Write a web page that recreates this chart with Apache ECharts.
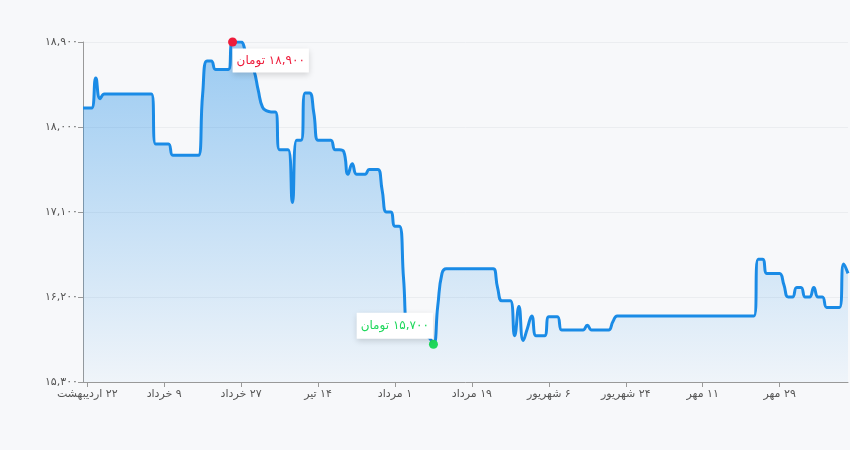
<!DOCTYPE html>
<html>
<head>
<meta charset="utf-8">
<script src="https://cdn.jsdelivr.net/npm/echarts@6/dist/echarts.min.js"></script>
<style>
html,body{margin:0;padding:0;background:#f7f8fa;}
#chart{width:850px;height:450px;}
</style>
</head>
<body>
<div id="chart"></div>
<script>
// Persian calendar: month names and lengths used to build the daily categories
const monthNames = ['اردیبهشت', 'خرداد', 'تیر', 'مرداد', 'شهریور', 'مهر', 'آبان'];
const monthDays = [31, 31, 31, 31, 31, 30, 30];
const startDay = 21;          // first day shown (in اردیبهشت)
const dayCount = 180;

// Daily price (toman)
const prices = [
  18200, 18200, 18200, 18520, 18300,
  18350, 18350, 18350, 18350, 18350, 18350, 18350, 18350, 18350, 18350, 18350, 18350,
  17820, 17820, 17820, 17820,
  17700, 17700, 17700, 17700, 17700, 17700, 17700,
  18350, 18700, 18700,
  18610, 18610, 18610, 18610,
  18900, 18900, 18900, 18800, 18690, 18600, 18390, 18210, 18170, 18160, 18160,
  17760, 17760, 17760, 17200, 17860, 17860, 18360, 18360, 18150,
  17860, 17860, 17860, 17860, 17760, 17760, 17740, 17500, 17610,
  17500, 17500, 17500, 17550, 17550, 17550, 17330, 17100, 17100, 16950, 16950,
  16400, 15800, 15790, 15790, 15790, 15790, 15770, 15700, 16100, 16450,
  16500, 16500, 16500, 16500, 16500, 16500, 16500, 16500, 16500, 16500, 16500, 16500,
  16300, 16160, 16160, 16160, 15790, 16100, 15740, 15870, 16000, 15790, 15790, 15790,
  15990, 15990, 15990, 15850, 15850, 15850, 15850, 15850, 15850, 15900,
  15850, 15850, 15850, 15850, 15850, 15940,
  16000, 16000, 16000, 16000, 16000, 16000, 16000, 16000, 16000, 16000, 16000,
  16000, 16000, 16000, 16000, 16000, 16000, 16000, 16000, 16000, 16000, 16000,
  16000, 16000, 16000, 16000, 16000, 16000, 16000, 16000, 16000, 16000, 16000,
  16600, 16600, 16450, 16450, 16450, 16450, 16330, 16200, 16200, 16300, 16300,
  16200, 16200, 16300, 16200, 16200, 16090, 16090, 16090, 16090, 16550, 16450
];

const yMin = 15300, yMax = 18900, yStep = 900;
const labelEvery = 18, labelOffset = 1;
const unit = 'تومان';

const faDigits = '۰۱۲۳۴۵۶۷۸۹';
function toFa(s) { return String(s).replace(/\d/g, d => faDigits[+d]); }
function fmtNum(v) { return toFa(v.toLocaleString('en-US')); }
const RLM = '\u200F';

const categories = [];
{
  let m = 0, d = startDay;
  for (let i = 0; i < dayCount; i++) {
    categories.push(RLM + toFa(d) + ' ' + monthNames[m]);
    d++;
    if (d > monthDays[m]) { d = 1; m++; }
  }
}

const FONT = "'DejaVu Sans', sans-serif";
const chart = echarts.init(document.getElementById('chart'), null, {renderer: 'canvas'});
const showIdx = (i) => i % labelEvery === labelOffset;

chart.setOption({
  backgroundColor: '#f7f8fa',
  animation: false,
  grid: {left: 83, right: 2, top: 42, bottom: 68},
  xAxis: {
    type: 'category',
    boundaryGap: false,
    data: categories,
    axisLine: {lineStyle: {color: '#999'}},
    axisTick: {show: true, interval: showIdx, length: 5, lineStyle: {color: '#999'}},
    axisLabel: {interval: showIdx, color: '#555', fontSize: 11, fontFamily: FONT, margin: 7},
    splitLine: {show: false}
  },
  yAxis: {
    type: 'value',
    min: yMin, max: yMax, interval: yStep,
    axisLine: {show: true, lineStyle: {color: '#999'}},
    axisTick: {show: true, length: 5, lineStyle: {color: '#999'}},
    axisLabel: {color: '#555', fontSize: 11, fontFamily: FONT, margin: 5, formatter: v => fmtNum(v)},
    splitLine: {lineStyle: {color: '#ebedf0'}}
  },
  series: [{
    type: 'line',
    data: prices,
    smooth: true,
    symbol: 'none',
    lineStyle: {color: '#1a8be6', width: 3},
    itemStyle: {color: '#1a8be6'},
    areaStyle: {
      color: new echarts.graphic.LinearGradient(0, 0, 0, 1, [
        {offset: 0, color: 'rgba(26,139,230,0.6)'},
        {offset: 1, color: 'rgba(26,139,230,0.05)'}
      ])
    },
    markPoint: {
      symbol: 'circle',
      symbolSize: 9,
      data: [
        {
          type: 'max',
          itemStyle: {color: '#ee1c3b'},
          label: {
            show: true, position: [4.5, 11], align: 'left', verticalAlign: 'top',
            color: '#ee1c3b', fontSize: 12, fontFamily: FONT,
            backgroundColor: '#ffffff', padding: [6, 4, 6, 4],
            shadowBlur: 6, shadowColor: 'rgba(0,0,0,0.15)', shadowOffsetY: 2,
            formatter: p => RLM + fmtNum(p.value) + ' ' + unit
          }
        },
        {
          type: 'min',
          itemStyle: {color: '#1fd85c'},
          label: {
            show: true, position: [4, -1], align: 'right', verticalAlign: 'bottom',
            color: '#1fd85c', fontSize: 12, fontFamily: FONT,
            backgroundColor: '#ffffff', padding: [7, 4, 7, 4],
            shadowBlur: 6, shadowColor: 'rgba(0,0,0,0.15)', shadowOffsetY: 2,
            formatter: p => RLM + fmtNum(p.value) + ' ' + unit
          }
        }
      ]
    }
  }]
});
</script>
</body>
</html>
